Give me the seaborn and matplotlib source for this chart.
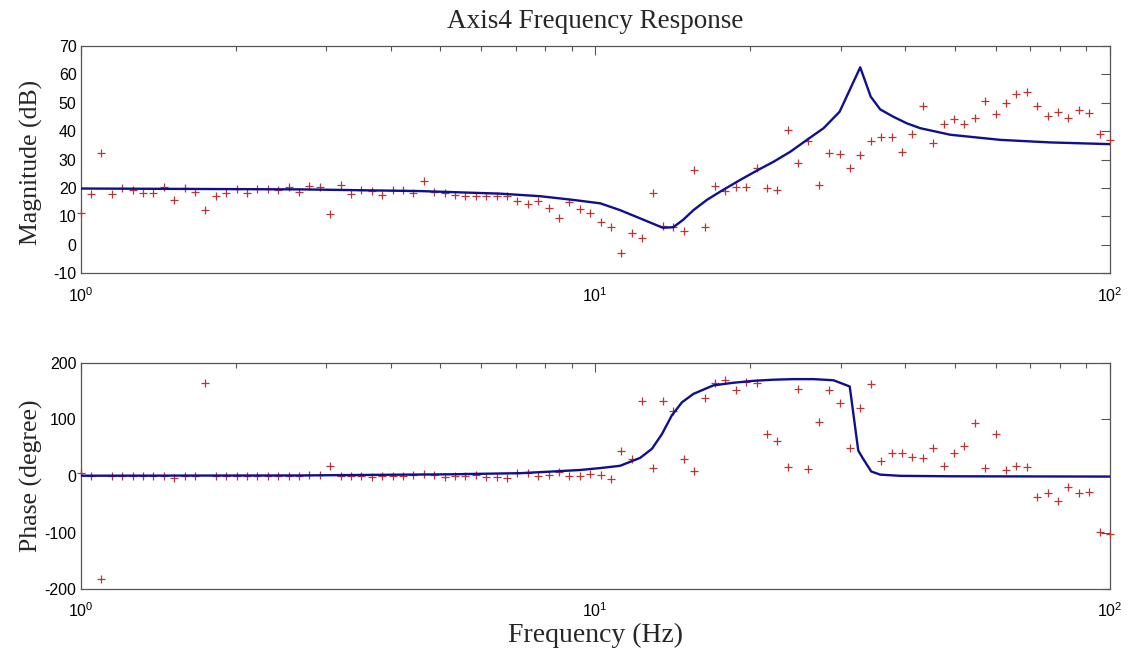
import numpy as np
import pandas as pd
import matplotlib
matplotlib.use("Agg")
import matplotlib.pyplot as plt
import seaborn as sns
from matplotlib.ticker import LogLocator, NullFormatter, FixedLocator

# ---- measured frequency grid (100 log-spaced points, 1 Hz .. 100 Hz) ----
freq_hz = np.logspace(0, 2, 100)

# measured magnitude (dB) at each grid point
meas_mag_db = [
    11.1, 17.9, 32.2, 17.9, 19.9, 19.3, 18.1, 18.1, 20.4, 15.8,
    19.9, 18.7, 12.3, 17.0, 18.1, 19.5, 18.4, 19.5, 19.8, 19.3,
    20.2, 18.6, 20.8, 20.2, 10.7, 21.2, 17.9, 19.3, 18.9, 17.5,
    19.3, 19.3, 18.4, 22.6, 18.7, 18.4, 17.4, 17.0, 17.0, 17.0,
    17.0, 17.0, 15.5, 14.4, 15.5, 13.0, 9.6, 15.2, 12.5, 11.3,
    7.9, 6.4, -2.7, 4.3, 2.3, 18.1, 6.6, 6.3, 4.8, 26.2,
    6.2, 20.7, 19.1, 20.5, 20.4, 27.0, 19.9, 19.4, 40.5, 28.8,
    36.5, 21.0, 32.2, 31.8, 26.9, 31.7, 36.5, 37.8, 37.8, 32.7,
    39.1, 48.8, 35.7, 42.6, 44.1, 42.6, 44.7, 50.4, 46.1, 50.0,
    52.9, 53.6, 48.9, 45.4, 46.7, 44.5, 47.3, 46.5, 38.8, 36.8,
]

# measured phase (degree) at each grid point
meas_phase_deg = [
    6.0, 0.0, -181.0, 0.0, 0.0, 0.0, 0.0, 0.0, 0.0, -4.0,
    0.0, 0.0, 164.6, 0.0, 0.0, 0.0, 0.0, 0.0, 0.0, 0.0,
    0.0, 0.0, 2.0, 2.0, 18.0, 0.0, 0.0, 0.0, -1.0, 0.0,
    0.0, 0.0, 2.0, 3.5, 1.0, -1.0, 0.5, -0.5, 2.0, -1.0,
    -1.0, -3.5, 6.0, 6.0, 0.0, 2.0, 7.0, 0.5, 0.5, 3.0,
    2.0, -5.0, 43.7, 30.0, 132.7, 14.2, 132.7, 115.0, 30.0, 9.4,
    138.0, 164.6, 168.7, 151.6, 166.4, 164.6, 74.9, 61.9, 16.5, 154.0,
    12.4, 96.2, 152.2, 129.2, 49.6, 119.2, 162.8, 27.1, 40.1, 40.1,
    34.2, 32.4, 50.1, 17.7, 41.3, 53.1, 93.8, 14.2, 74.3, 10.6,
    17.7, 15.3, -37.8, -30.7, -44.2, -18.9, -29.5, -28.3, -98.5, -103.2,
]

# ---- fitted model response ----
model_mag_freq = [
    1.000, 2.668, 4.566, 6.531, 7.810, 9.055, 10.22, 11.17, 12.22, 13.53,
    14.17, 14.81, 15.51, 16.47, 17.48, 19.11, 20.60, 22.19, 23.91, 25.77,
    27.76, 29.83, 32.71, 34.28, 35.77, 37.96, 40.31, 42.79, 48.94, 61.21,
    76.56, 100.0,
]
model_mag_db = [
    19.8, 19.5, 18.9, 18.0, 17.1, 15.8, 14.6, 12.2, 9.3, 6.0,
    6.2, 8.8, 12.2, 15.8, 18.7, 22.8, 26.1, 29.2, 32.7, 36.9,
    41.0, 46.8, 62.4, 52.1, 47.6, 45.0, 42.7, 41.0, 38.7, 36.9,
    36.0, 35.4,
]

model_phase_freq = [
    1.000, 2.668, 5.222, 7.142, 8.279, 9.343, 10.22, 11.17, 12.22, 12.88,
    13.47, 14.08, 14.73, 15.51, 16.96, 18.55, 20.29, 22.19, 24.27, 26.54,
    29.03, 31.21, 32.42, 33.05, 34.36, 35.77, 39.12, 48.94, 100.0,
]
model_phase_deg = [
    0.5, 1.0, 3.0, 5.0, 8.0, 10.6, 14.0, 18.0, 32.0, 48.0,
    74.0, 107.0, 130.0, 145.0, 160.0, 164.6, 168.0, 170.0, 171.0, 171.0,
    169.0, 158.0, 45.0, 32.0, 8.0, 2.4, 0.3, -0.5, -1.0,
]

mag_ticks = [-10, 0, 10, 20, 30, 40, 50, 60, 70]
phase_ticks = [-200, -100, 0, 100, 200]

title_text = "Axis4 Frequency Response"
mag_label = "Magnitude (dB)"
phase_label = "Phase (degree)"
freq_label = "Frequency (Hz)"

# ---- styling ----
sns.set_theme(style="white")
plt.rcParams["font.family"] = ["Liberation Sans", "DejaVu Sans"]
plt.rcParams["axes.unicode_minus"] = False
plt.rcParams["mathtext.fontset"] = "custom"
plt.rcParams["mathtext.rm"] = "Liberation Sans"

MEAS_COLOR = "#bb3535"
MODEL_COLOR = "#10108f"
FRAME_COLOR = "#555555"
SERIF = ["Liberation Serif", "DejaVu Serif"]

W, H = 1133, 656
fig = plt.figure(figsize=(W / 100, H / 100), dpi=100)
fig.patch.set_facecolor("white")

left, right = 80.7, 1110.0
ax_mag = fig.add_axes([left / W, 1 - 273.3 / H, (right - left) / W, (273.3 - 45.7) / H])
ax_ph = fig.add_axes([left / W, 1 - 589.3 / H, (right - left) / W, (589.3 - 362.7) / H])

meas = pd.DataFrame({"freq": freq_hz, "mag": meas_mag_db, "phase": meas_phase_deg})
mod_mag = pd.DataFrame({"freq": model_mag_freq, "mag": model_mag_db})
mod_ph = pd.DataFrame({"freq": model_phase_freq, "phase": model_phase_deg})


def draw_panel(ax, ycol, model_df, yticks, ylim):
    sns.scatterplot(data=meas, x="freq", y=ycol, ax=ax, marker="+", s=30,
                    color=MEAS_COLOR, linewidth=0.9, clip_on=False, zorder=3,
                    legend=False)
    sns.lineplot(data=model_df, x="freq", y=ycol, ax=ax, color=MODEL_COLOR,
                 linewidth=1.7, sort=False, estimator=None, zorder=4,
                 legend=False)
    ax.set_xscale("log")
    ax.set_xlim(1, 100)
    ax.set_ylim(*ylim)
    ax.set_yticks(yticks)
    ax.xaxis.set_major_locator(FixedLocator([1, 10, 100]))
    ax.xaxis.set_minor_locator(LogLocator(base=10, subs=np.arange(2, 10)))
    ax.xaxis.set_minor_formatter(NullFormatter())
    ax.set_xlabel("")
    ax.set_ylabel("")
    ax.tick_params(which="both", direction="in", top=True, right=True,
                   color=FRAME_COLOR, labelcolor="black", labelsize=11.5,
                   width=0.8)
    ax.tick_params(which="major", length=6.5, pad=9)
    ax.tick_params(which="minor", length=3.6)
    ax.tick_params(axis="y", pad=3)
    for sp in ax.spines.values():
        sp.set_color(FRAME_COLOR)
        sp.set_linewidth(0.9)
        sp.set_visible(True)
    ax.set_facecolor("white")


draw_panel(ax_mag, "mag", mod_mag, mag_ticks, (-10, 70))
draw_panel(ax_ph, "phase", mod_ph, phase_ticks, (-200, 200))

fig.text((left + right) / 2 / W, 1 - 21 / H, title_text, ha="center",
         va="center", fontsize=19.5, family=SERIF)
fig.text(31 / W, 1 - 162 / H, mag_label, ha="center", va="center",
         rotation=90, fontsize=18.5, family=SERIF)
fig.text(31 / W, 1 - 476 / H, phase_label, ha="center", va="center",
         rotation=90, fontsize=18.5, family=SERIF)
fig.text((left + right) / 2 / W, 1 - 635 / H, freq_label, ha="center",
         va="center", fontsize=20, family=SERIF)

fig.savefig("out.png", dpi=100, facecolor="white")
